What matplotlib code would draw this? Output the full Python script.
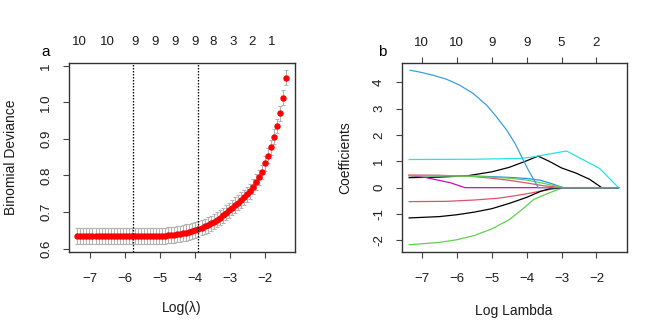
import numpy as np
import matplotlib.pyplot as plt

plt.rcParams['font.family'] = ['Liberation Sans', 'DejaVu Sans']

# ---- panel a: cross-validated binomial deviance ----
loglam_start, loglam_end, n_lambda = -7.36, -1.39, 70
deviance = [0.634] * 29 + [
    0.635, 0.636, 0.637, 0.638, 0.639, 0.640, 0.642, 0.644, 0.646, 0.648,
    0.651, 0.654, 0.657, 0.661, 0.665, 0.669, 0.674, 0.679, 0.685, 0.691,
    0.698, 0.705, 0.712, 0.719, 0.726, 0.733, 0.740, 0.748, 0.757, 0.769,
    0.782, 0.795, 0.810, 0.833, 0.854, 0.877, 0.906, 0.935, 0.970, 1.013,
    1.068]
dev_se = [0.022] * 40 + [0.021] * 20 + [0.020] * 10
lambda_min, lambda_1se = -5.77, -3.91
top_a_pos = [-7.31, -6.51, -5.72, -5.15, -4.58, -4.01, -3.47, -2.90, -2.36, -1.82]
top_a_lab = ['10', '10', '9', '9', '9', '9', '8', '3', '2', '1']
ya_ticks = [0.6, 0.7, 0.8, 0.9, 1.0, 1.1]
ya_labels = ['0.6', '0.7', '0.8', '0.9', '1.0', '1']

# ---- panel b: lasso coefficient paths (knots of each path) ----
path_x = {
    'v1': [-7.36, -6.5, -5.7, -5.0, -4.5, -4.0, -3.67, -3.35, -3.0, -2.6, -2.2, -1.85, -1.37],
    'v2': [-7.36, -6.3, -5.5, -4.8, -4.3, -3.9, -3.4, -2.95, -1.37],
    'v3': [-7.36, -6.5, -6.0, -5.5, -5.0, -4.5, -4.1, -3.8, -3.5, -3.2, -2.95, -1.37],
    'v4': [-7.36, -6.5, -5.5, -5.0, -4.5, -4.0, -3.6, -3.3, -2.95, -1.37],
    'v5': [-7.36, -5.5, -4.2, -3.9, -3.6, -3.3, -3.0, -2.85, -2.38, -1.91, -1.37],
    'v6': [-7.36, -6.9, -6.19, -5.76, -1.37],
    'v7': [-7.36, -6.5, -6.0, -5.5, -5.0, -4.5, -4.0, -3.6, -3.3, -3.0, -1.37],
    'v8': [-7.36, -6.5, -5.5, -5.0, -4.5, -4.0, -3.5, -2.95, -1.37],
    'v9': [-7.36, -6.5, -5.5, -5.0, -4.5, -4.0, -3.5, -2.95, -1.37],
    'v10': [-7.33, -7.05, -6.67, -6.29, -5.91, -5.53, -5.14, -4.86, -4.57,
            -4.33, -4.14, -3.95, -3.76, -3.67, -1.37],
}
path_y = {
    'v1': [0.38, 0.40, 0.45, 0.60, 0.77, 1.02, 1.20, 1.00, 0.75, 0.56, 0.32, 0.0, 0.0],
    'v2': [-0.53, -0.52, -0.47, -0.40, -0.30, -0.21, -0.08, 0.0, 0.0],
    'v3': [-2.17, -2.08, -1.98, -1.82, -1.57, -1.22, -0.80, -0.45, -0.28, -0.12, 0.0, 0.0],
    'v4': [0.46, 0.46, 0.44, 0.42, 0.39, 0.35, 0.28, 0.16, 0.0, 0.0],
    'v5': [1.07, 1.08, 1.11, 1.15, 1.22, 1.29, 1.36, 1.39, 1.06, 0.73, 0.0],
    'v6': [0.46, 0.39, 0.19, 0.0, 0.0],
    'v7': [-1.15, -1.10, -1.03, -0.93, -0.80, -0.60, -0.37, -0.14, -0.03, 0.0, 0.0],
    'v8': [0.48, 0.47, 0.42, 0.36, 0.28, 0.18, 0.07, 0.0, 0.0],
    'v9': [0.45, 0.45, 0.43, 0.40, 0.36, 0.29, 0.16, 0.0, 0.0],
    'v10': [4.46, 4.39, 4.27, 4.12, 3.89, 3.58, 3.13, 2.69, 2.19,
            1.68, 1.17, 0.67, 0.23, 0.0, 0.0],
}
# R matplot default palette col = 1:6
path_col = ['black', '#DF536B', '#61D04F', '#2297E6', '#28E2E5', '#CD0BBC',
            'black', '#DF536B', '#61D04F', '#3A9FE0']
top_b_pos = [-7, -6, -5, -4, -3, -2]
top_b_lab = ['10', '10', '9', '9', '5', '2']

txt = '#1a1a1a'
fs = 9.5

fig = plt.figure(figsize=(6.63, 3.31), dpi=100)
ax_a = fig.add_axes([0.104, 0.239, 0.341, 0.571])
ax_b = fig.add_axes([0.606, 0.239, 0.339, 0.571])

# panel a
loglam = np.linspace(loglam_start, loglam_end, n_lambda)
ax_a.errorbar(loglam, deviance, yerr=dev_se, fmt='none', ecolor='#b3b3b3',
              elinewidth=0.8, capsize=1.6, capthick=0.8, zorder=1)
ax_a.plot(loglam, deviance, 'o', color='red', markersize=3.6, mec='red', zorder=2)
ax_a.axvline(lambda_min, color='black', ls=(0, (1.2, 1.2)), lw=0.9)
ax_a.axvline(lambda_1se, color='black', ls=(0, (1.2, 1.2)), lw=0.9)
ax_a.set_xlim(-7.6, -1.14)
ax_a.set_ylim(0.591, 1.108)
ax_a.set_xticks([-7, -6, -5, -4, -3, -2])
ax_a.set_yticks(ya_ticks)
ax_a.set_yticklabels(ya_labels, rotation=90, va='center')
ax_a.set_xlabel('Log(\u03bb)', fontsize=fs + 0.5, color=txt, labelpad=12)
ax_a.set_ylabel('Binomial Deviance', fontsize=fs + 0.5, color=txt, labelpad=16)
top_a = ax_a.secondary_xaxis('top')
top_a.set_xticks(top_a_pos)
top_a.set_xticklabels(top_a_lab)
top_a.tick_params(length=0, pad=11, labelsize=fs, labelcolor=txt)
top_a.spines['top'].set_visible(False)

# panel b
for (key, xs), col in zip(path_x.items(), path_col):
    ax_b.plot(xs, path_y[key], color=col, lw=0.9)
ax_b.set_xlim(-7.57, -1.14)
ax_b.set_ylim(-2.44, 4.74)
ax_b.set_xticks([-7, -6, -5, -4, -3, -2])
ax_b.set_yticks([-2, -1, 0, 1, 2, 3, 4])
ax_b.set_yticklabels(['-2', '-1', '0', '1', '2', '3', '4'], rotation=90, va='center')
ax_b.set_xlabel('Log Lambda', fontsize=fs + 0.5, color=txt, labelpad=14)
ax_b.set_ylabel('Coefficients', fontsize=fs + 0.5, color=txt, labelpad=15)
top_b = ax_b.secondary_xaxis('top')
top_b.set_xticks(top_b_pos)
top_b.set_xticklabels(top_b_lab)
top_b.tick_params(length=4, width=0.8, color='#444444', pad=6, labelsize=fs, labelcolor=txt)
top_b.spines['top'].set_visible(False)

for ax in (ax_a, ax_b):
    ax.tick_params(length=4, width=0.8, color='#444444', labelsize=fs, labelcolor=txt)
    ax.tick_params(axis='x', pad=11)
    ax.tick_params(axis='y', pad=8)
    for sp in ax.spines.values():
        sp.set_color('#333333')
        sp.set_linewidth(1.0)

fig.text(45.7 / 663, 1 - 51.7 / 331, 'a', fontsize=11, color='black', ha='center', va='center')
fig.text(382 / 663, 1 - 52 / 331, 'b', fontsize=11, color='black', ha='center', va='center')

fig.savefig('out.png', dpi=100, facecolor='white')
